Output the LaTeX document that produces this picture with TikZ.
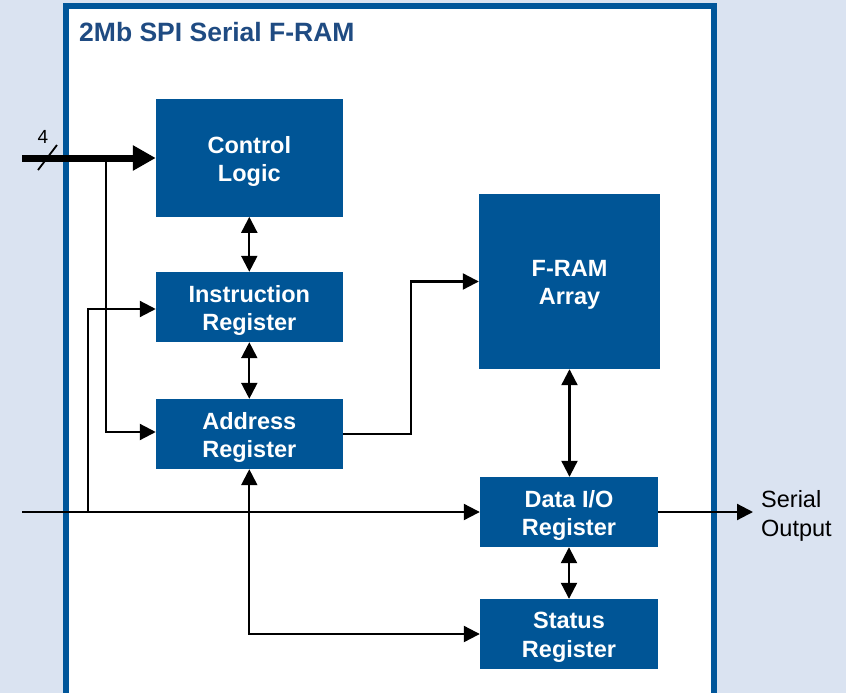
\documentclass[tikz,border=0pt]{standalone}
\usepackage{fontspec}
\setmainfont{Liberation Sans}
\usetikzlibrary{arrows.meta}
\definecolor{bgblue}{RGB}{218,227,241}
\definecolor{frameblue}{RGB}{0,86,154}
\definecolor{blockblue}{RGB}{0,85,150}
\definecolor{titleblue}{RGB}{31,75,130}
\begin{document}
\begin{tikzpicture}[x=1pt,y=-1pt,
  >={Triangle[length=16pt,width=16pt]},
  blktxt/.style={text=white, inner sep=0pt, align=center, yshift=-3.5pt,
    font=\fontsize{23.5}{28.5}\selectfont\bfseries},
  blk/.style={fill=blockblue, inner sep=0pt, label={[blktxt]center:{#1}}},
  wire/.style={line width=2.2pt, draw=black},
  bus/.style={line width=7pt, draw=black,
    -{Triangle[length=23pt,width=24pt]}},
  plain/.style={inner sep=0pt, text=black}]
% page and background
\useasboundingbox (0,0) rectangle (846,693);
\clip (0,0) rectangle (846,693);
\fill[bgblue] (0,0) rectangle (846,693);
% device outline (its lower edge runs below the page)
\draw[frameblue, line width=6pt, fill=white] (66,6.3) rectangle (713.7,720);
\node[anchor=base west, inner sep=0pt, text=titleblue,
  font=\fontsize{26.5}{30}\selectfont\bfseries] (title) at (79,42) {2Mb SPI Serial F-RAM};
% functional blocks
\node[blk={Control\\Logic}, minimum width=186.7pt, minimum height=117.7pt] (ctl) at (249.3,157.8) {};
\node[blk={Instruction\\Register}, minimum width=186.7pt, minimum height=70pt] (ins) at (249.3,307) {};
\node[blk={Address\\Register}, minimum width=186.7pt, minimum height=70pt] (adr) at (249.3,434) {};
\node[blk={F-RAM\\Array}, minimum width=181pt, minimum height=175pt] (fram) at (569.5,281.5) {};
\node[blk={Data I/O\\Register}, minimum width=178pt, minimum height=70pt] (dio) at (569,512) {};
\node[blk={Status\\Register}, minimum width=178pt, minimum height=70pt] (sts) at (569,634) {};
% external pins and taps
\coordinate (busin) at (22,158);
\coordinate (tapA) at (106,158);
\coordinate (sin) at (22,512);
\coordinate (tapI) at (88,512);
\coordinate (sout) at (753,512);
\coordinate (slashA) at (38,170);
\coordinate (slashB) at (57,145);
% 4-wire control bus
\draw[bus] (busin) -- (busin -| ctl.west);
\draw[line width=1.8pt] (slashA) -- (slashB);
\node[plain, font=\fontsize{19}{22}\selectfont] (buswidth) at (43,137) {4};
\draw[wire, ->] (tapA) |- ([yshift=2pt]adr.west);
% serial input
\draw[wire, ->] (sin) -- (sin -| dio.west);
\draw[wire, ->] (tapI) |- ([yshift=-2pt]ins.west);
% register links
\draw[wire, <->] (ctl.south) -- (ins.north);
\draw[wire, <->] (ins.south) -- (adr.north);
\draw[wire, ->] (adr.east) -- ++(68.5,0) |- (fram.west);
\draw[wire, <->] (adr.south) |- (sts.west);
\draw[wire, <->] (fram.south) -- (fram.south |- dio.north);
\draw[wire, <->] (dio.south) -- (sts.north);
% serial output
\draw[wire, ->] (dio.east) -- (sout);
\node[plain, anchor=west, align=left, font=\fontsize{23.5}{29}\selectfont] (outlbl) at (761,515.5) {Serial\\Output};
\end{tikzpicture}
\end{document}
